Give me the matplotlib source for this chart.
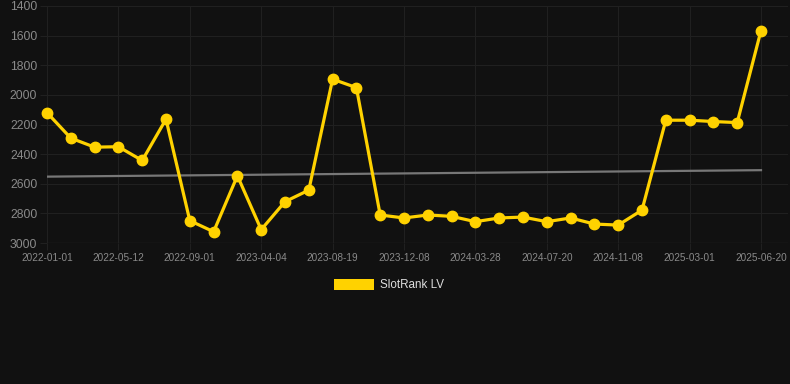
import matplotlib
matplotlib.use("Agg")
import matplotlib.pyplot as plt
import numpy as np
from matplotlib.patches import Rectangle

dates = ["2022-01-01", "", "", "2022-05-12", "", "", "2022-09-01", "", "", "2023-04-04",
         "", "", "2023-08-19", "", "", "2023-12-08", "", "", "2024-03-28", "", "",
         "2024-07-20", "", "", "2024-11-08", "", "", "2025-03-01", "", "", "2025-06-20"]
ranks = [2120, 2292, 2353, 2350, 2443, 2164, 2849, 2924, 2546, 2910, 2721, 2643, 1894, 1951,
         2811, 2831, 2811, 2820, 2856, 2831, 2825, 2856, 2831, 2872, 2879, 2778, 2171, 2171,
         2180, 2187, 1566]
series_name = "SlotRank LV"
yticks = [1400, 1600, 1800, 2000, 2200, 2400, 2600, 2800, 3000]

BG = "#111111"
GRID = "#202020"
TXT = "#8a8a8a"
GOLD = "#FFD200"

plt.rcParams['font.family'] = ['Liberation Sans', 'DejaVu Sans']

W, H = 790, 384
fig = plt.figure(figsize=(W / 100, H / 100), dpi=100, facecolor=BG)
ax = fig.add_axes([47 / W, 1 - 243 / H, (788 - 47) / W, (243 - 6) / H], facecolor=BG)

x = np.arange(len(ranks))
y = np.array(ranks, dtype=float)

coef = np.polyfit(x, y, 1)
ax.plot([x[0], x[-1]], np.polyval(coef, [x[0], x[-1]]), color="#777777", lw=1.6, zorder=2)

ax.plot(x, y, color=GOLD, lw=2.3, marker="o", ms=7.5, mfc=GOLD, mec=GOLD, zorder=3,
        clip_on=False)

ax.set_ylim(3000, 1400)
ax.set_yticks(yticks)
ax.set_yticklabels([str(v) for v in yticks])
tick_idx = [i for i, d in enumerate(dates) if d]
ax.set_xticks(tick_idx)
ax.set_xticklabels([dates[i] for i in tick_idx])
ax.set_xlim(0, (788 - 47) / ((761 - 47) / 30))

ax.grid(True, color=GRID, lw=0.8)
for s in ax.spines.values():
    s.set_visible(False)
ax.tick_params(axis="y", colors=GRID, labelcolor=TXT, labelsize=8.8, length=5, width=0.8, pad=2)
ax.tick_params(axis="x", colors=GRID, labelcolor=TXT, labelsize=7.2, length=5, width=0.8, pad=2)
ax.axhline(3000, color="#2a2a2a", lw=0.9, zorder=1)

# legend
fig.patches.append(Rectangle((334 / W, 1 - 290 / H), 40 / W, 11 / H,
                             transform=fig.transFigure, facecolor=GOLD, edgecolor="none"))
fig.text(380 / W, 1 - 285 / H, series_name, color="#dddddd", fontsize=8.4,
         va="center", ha="left")

fig.savefig("out.png", dpi=100, facecolor=BG)
